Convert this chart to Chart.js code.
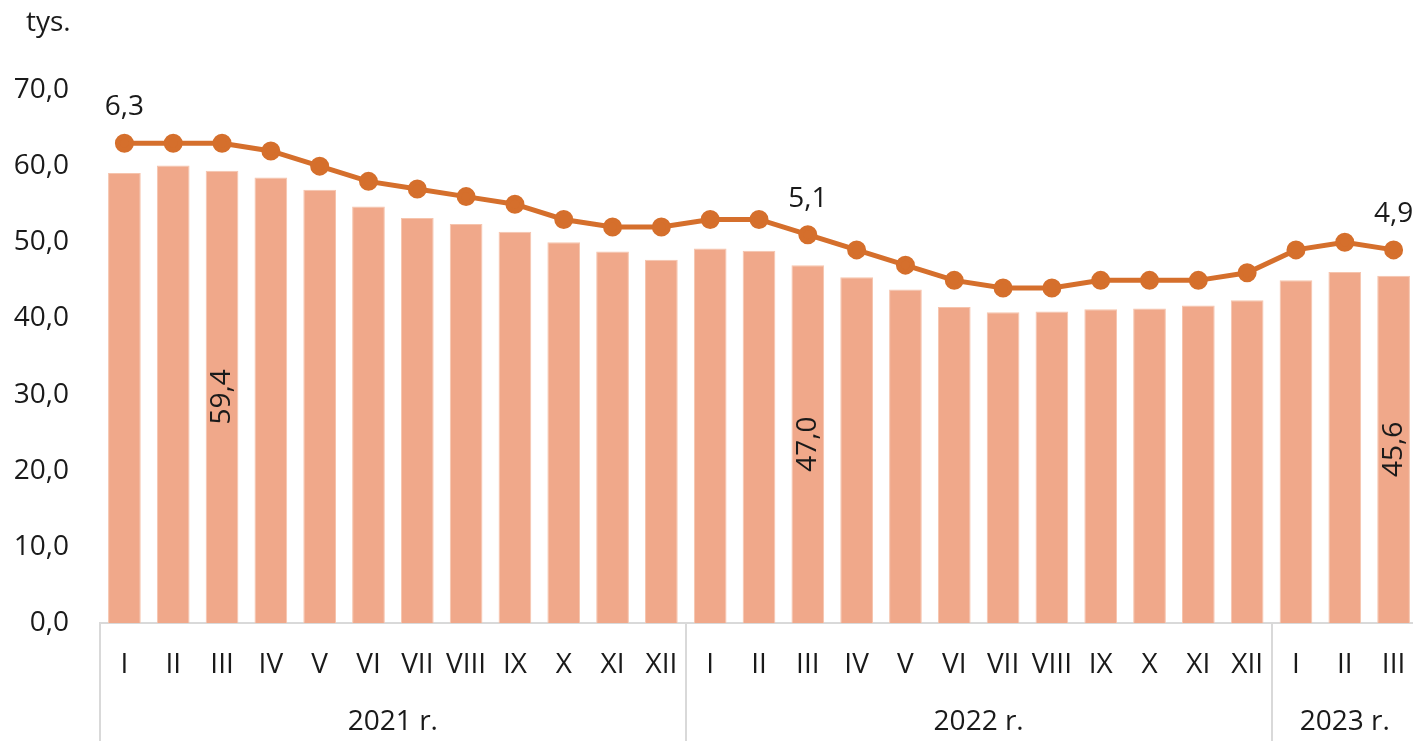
<!DOCTYPE html>
<html>
<head>
<meta charset="utf-8">
<script src="https://cdn.jsdelivr.net/npm/chart.js@4"></script>
<style>
  html, body { margin: 0; padding: 0; background: #fff; overflow: hidden; }
  #wrap { width: 1419px; height: 741px; position: relative; }
</style>
</head>
<body>
<div id="wrap"><canvas id="chart"></canvas></div>
<script>
const months = ["I","II","III","IV","V","VI","VII","VIII","IX","X","XI","XII",
  "I","II","III","IV","V","VI","VII","VIII","IX","X","XI","XII",
  "I","II","III"];
const years = ["2021 r.", "2022 r.", "2023 r."];
const yearSizes = [12, 12, 3];

// liczba (tys.) - słupki
const barValues = [59.1, 60.1, 59.4, 58.5, 56.9, 54.7, 53.2, 52.4, 51.4, 50.0, 48.8, 47.7,
  49.2, 48.9, 47.0, 45.4, 43.8, 41.5, 40.8, 40.9, 41.2, 41.3, 41.7, 42.4,
  45.0, 46.1, 45.6];
// stopa (%) - linia, oś pomocnicza
const lineValues = [6.3, 6.3, 6.3, 6.2, 6.0, 5.8, 5.7, 5.6, 5.5, 5.3, 5.2, 5.2,
  5.3, 5.3, 5.1, 4.9, 4.7, 4.5, 4.4, 4.4, 4.5, 4.5, 4.5, 4.6,
  4.9, 5.0, 4.9];
const yTicks = [0, 10, 20, 30, 40, 50, 60, 70];

const labelledBars = [2, 14, 26];
const labelledPoints = [0, 14, 26];

const FONT = "'Open Sans', 'Noto Sans', sans-serif";
const fmt = v => v.toFixed(1).replace(".", ",");

const extras = {
  id: "extras",
  afterDatasetsDraw(chart) {
    const ctx = chart.ctx,
      area = chart.chartArea,
      x = chart.scales.x;
    ctx.save();
    ctx.fillStyle = "#1a1a1a";
    ctx.font = "28px " + FONT;

    // etykiety słupków, pionowo
    const barMeta = chart.getDatasetMeta(0);
    labelledBars.forEach(i => {
      const el = barMeta.data[i];
      ctx.save();
      ctx.translate(el.x, (el.y + el.base) / 2);
      ctx.rotate(-Math.PI / 2);
      ctx.textAlign = "center";
      ctx.textBaseline = "middle";
      ctx.fillText(fmt(barValues[i]), 0, 0);
      ctx.restore();
    });

    // etykiety linii
    const lineMeta = chart.getDatasetMeta(1);
    labelledPoints.forEach(i => {
      const el = lineMeta.data[i];
      ctx.textAlign = "center";
      ctx.textBaseline = "middle";
      ctx.fillText(fmt(lineValues[i]), el.x, el.y - 36);
    });

    // tys.
    ctx.textAlign = "left";
    ctx.textBaseline = "alphabetic";
    ctx.fillText("tys.", 26, 31);

    // podział na lata
    ctx.strokeStyle = "#d9d9d9";
    ctx.lineWidth = 2;
    const step = (x.getPixelForValue(1) - x.getPixelForValue(0));
    let start = 0;
    const bounds = [x.getPixelForValue(0) - step / 2];
    yearSizes.forEach((n, k) => {
      const left = x.getPixelForValue(start) - step / 2,
        right = x.getPixelForValue(start + n - 1) + step / 2;
      bounds.push(right);
      ctx.textAlign = "center";
      ctx.textBaseline = "middle";
      ctx.fillText(years[k], (left + right) / 2, 722);
      start += n;
    });
    bounds.forEach(b => {
      ctx.beginPath();
      ctx.moveTo(Math.round(b), area.bottom);
      ctx.lineTo(Math.round(b), chart.height);
      ctx.stroke();
    });
    ctx.restore();
  },
};

new Chart(document.getElementById("chart"), {
  type: "bar",
  data: {
    labels: months,
    datasets: [
      {
        type: "bar",
        data: barValues,
        backgroundColor: "#F0A88A",
        borderColor: "#F6C4AD",
        borderWidth: 1,
        barPercentage: 0.67,
        categoryPercentage: 1,
        yAxisID: "y",
        order: 2,
      },
      {
        type: "line",
        data: lineValues,
        borderColor: "#D56F2C",
        backgroundColor: "#D56F2C",
        borderWidth: 5,
        pointRadius: 7,
        pointHoverRadius: 7,
        tension: 0,
        yAxisID: "y1",
        order: 1,
      },
    ],
  },
  options: {
    responsive: true,
    maintainAspectRatio: false,
    animation: false,
    layout: { autoPadding: false, padding: { top: 90, right: 1, left: 0, bottom: 0 } },
    plugins: { legend: { display: false }, tooltip: { enabled: false } },
    scales: {
      x: {
        grid: { display: false },
        border: { display: true, color: "#d9d9d9", width: 2 },
        ticks: {
          autoSkip: false,
          maxRotation: 0,
          padding: 17,
          color: "#1a1a1a",
          font: { family: FONT, size: 28 },
        },
        afterFit(s) {
          s.height = 118;
          s.paddingLeft = 0;
          s.paddingRight = 0;
        },
      },
      y: {
        min: 0,
        max: 70,
        grid: { display: false, drawTicks: false },
        border: { display: false },
        afterBuildTicks(s) { s.ticks = yTicks.map(v => ({ value: v })); },
        ticks: {
          padding: 31,
          color: "#1a1a1a",
          font: { family: FONT, size: 28 },
          callback: v => fmt(v),
        },
        afterFit(s) { s.width = 100; },
      },
      y1: {
        display: false,
        min: 0,
        max: 7,
      },
    },
  },
  plugins: [extras],
});
</script>
</body>
</html>
